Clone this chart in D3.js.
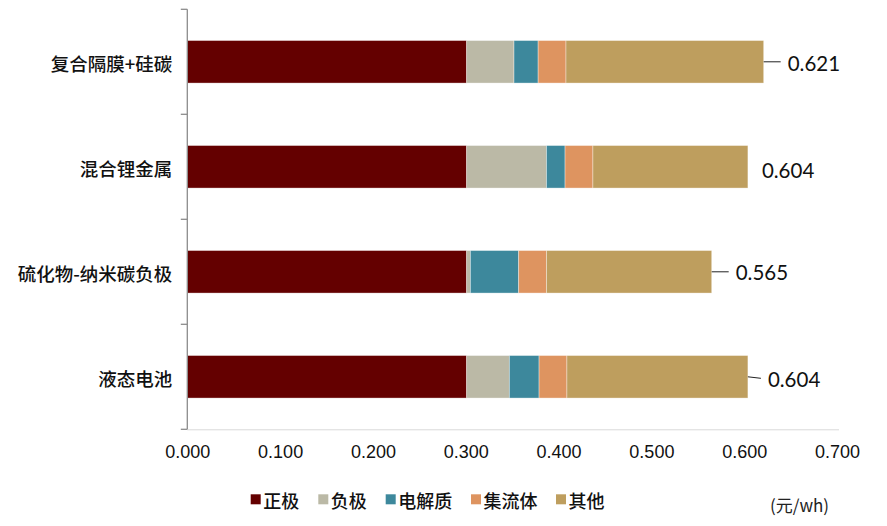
<!DOCTYPE html>
<html>
<head>
<meta charset="utf-8">
<script src="https://cdn.jsdelivr.net/npm/d3@7"></script>
<style>
  html, body { margin: 0; padding: 0; background: #fff; }
  svg { display: block; }
</style>
</head>
<body>
<svg id="chart" width="887" height="526"></svg>
<script>
// Battery cost breakdown, yuan per Wh
const categories = ["复合隔膜+硅碳", "混合锂金属", "硫化物-纳米碳负极", "液态电池"];
const seriesNames = ["正极", "负极", "电解质", "集流体", "其他"];
const cathode     = [0.301, 0.301, 0.301, 0.301];
const anode       = [0.051, 0.086, 0.004, 0.046];
const electrolyte = [0.026, 0.020, 0.052, 0.032];
const collector   = [0.030, 0.030, 0.030, 0.030];
const other       = [0.213, 0.167, 0.178, 0.195];
const totals      = [0.621, 0.604, 0.565, 0.604];
const xTicks      = [0, 0.1, 0.2, 0.3, 0.4, 0.5, 0.6, 0.7];
const unitLabel   = "(元/wh)";

const colors = ["#640000", "#bbb9a6", "#3d889c", "#de9460", "#be9e5e"];

// total label placement: gap after bar end, leader line length (0 = none), vertical nudge
const labelGap    = [24, 14, 24, 20];
const leaderLen   = [17, 0, 17, 13];
const labelNudge  = [1.5, 3, 0.5, 2];

const svg = d3.select("#chart");

const x = d3.scaleLinear().domain([0, 0.7]).range([187.3, 837]);
const y = d3.scaleBand().domain(categories).range([9.3, 429.3])
  .paddingInner(0.595).paddingOuter(0.2975);

const table = categories.map((c, i) => ({
  category: c,
  "正极": cathode[i], "负极": anode[i], "电解质": electrolyte[i],
  "集流体": collector[i], "其他": other[i]
}));
const stacked = d3.stack().keys(seriesNames)(table);

// x axis baseline
svg.append("line")
  .attr("x1", x(0)).attr("x2", x(0.7) + 2)
  .attr("y1", 429.8).attr("y2", 429.8)
  .attr("stroke", "#d9d9d9").attr("stroke-width", 1);

// bars
svg.append("g").selectAll("g").data(stacked).join("g")
  .attr("fill", (d, i) => colors[i])
  .selectAll("rect").data(d => d).join("rect")
  .attr("x", d => x(d[0]))
  .attr("width", d => x(d[1]) - x(d[0]))
  .attr("y", d => y(d.data.category))
  .attr("height", y.bandwidth())
  .attr("stroke", "rgba(255,255,255,0.45)")
  .attr("stroke-width", 0.8);

// category axis with ticks on band boundaries
const half = y.step() * y.paddingInner() / 2;
const bounds = categories.map(c => y(c) - half).concat([y(categories[categories.length - 1]) + y.bandwidth() + half]);
const ya = svg.append("g");
ya.append("line")
  .attr("x1", x(0)).attr("x2", x(0))
  .attr("y1", bounds[0]).attr("y2", bounds[bounds.length - 1])
  .attr("stroke", "#8c8c8c").attr("stroke-width", 1.3);
ya.selectAll("line.tick").data(bounds).join("line")
  .attr("class", "tick")
  .attr("x1", x(0) - 6.5).attr("x2", x(0))
  .attr("y1", d => d).attr("y2", d => d)
  .attr("stroke", "#8c8c8c").attr("stroke-width", 1.3);
ya.selectAll("text").data(categories).join("text")
  .attr("x", x(0) - 15)
  .attr("y", d => y(d) + y.bandwidth() / 2 + 1)
  .attr("text-anchor", "end")
  .attr("dominant-baseline", "central")
  .attr("font-family", "'Noto Sans CJK SC', sans-serif")
  .attr("font-weight", 500)
  .attr("font-size", 18.5)
  .attr("fill", "#111")
  .text(d => d);

// value axis labels
const xa = svg.append("g")
  .attr("transform", "translate(0,452)")
  .call(d3.axisBottom(x).tickValues(xTicks).tickFormat(d3.format(".3f")).tickSize(0).tickPadding(0));
xa.select(".domain").remove();
xa.selectAll("text")
  .attr("dy", "0.35em")
  .attr("font-family", "'Liberation Sans', Arial, sans-serif")
  .attr("font-size", 18)
  .attr("fill", "#111");

// totals with leader lines
const tl = svg.append("g");
totals.forEach((t, i) => {
  const cy = y(categories[i]) + y.bandwidth() / 2;
  if (leaderLen[i] > 0) {
    tl.append("line")
      .attr("x1", x(t)).attr("x2", x(t) + leaderLen[i])
      .attr("y1", cy).attr("y2", cy + (i === 3 ? 1.5 : 0))
      .attr("stroke", "#222").attr("stroke-width", 1);
  }
  tl.append("text")
    .attr("x", x(t) + labelGap[i])
    .attr("y", cy + labelNudge[i])
    .attr("dominant-baseline", "central")
    .attr("font-family", "Lato, 'Open Sans', sans-serif")
    .attr("font-size", 20.5)
    .attr("fill", "#111")
    .text(d3.format(".3f")(t));
});

// legend
const legendX = [250.7, 318.3, 385.7, 471, 556];
const lg = svg.append("g");
seriesNames.forEach((s, i) => {
  lg.append("rect")
    .attr("x", legendX[i]).attr("y", 494.3)
    .attr("width", 10).attr("height", 10)
    .attr("fill", colors[i]);
  lg.append("text")
    .attr("x", legendX[i] + 12.5).attr("y", 499.5)
    .attr("dominant-baseline", "central")
    .attr("font-family", "'Noto Sans CJK SC', sans-serif")
    .attr("font-weight", 500)
    .attr("font-size", 18)
    .attr("fill", "#111")
    .text(s);
});

// unit
svg.append("text")
  .attr("x", 770).attr("y", 504)
  .attr("dominant-baseline", "central")
  .attr("font-family", "'Noto Sans CJK SC', sans-serif")
  .attr("font-size", 17)
  .attr("fill", "#222")
  .text(unitLabel);
</script>
</body>
</html>
